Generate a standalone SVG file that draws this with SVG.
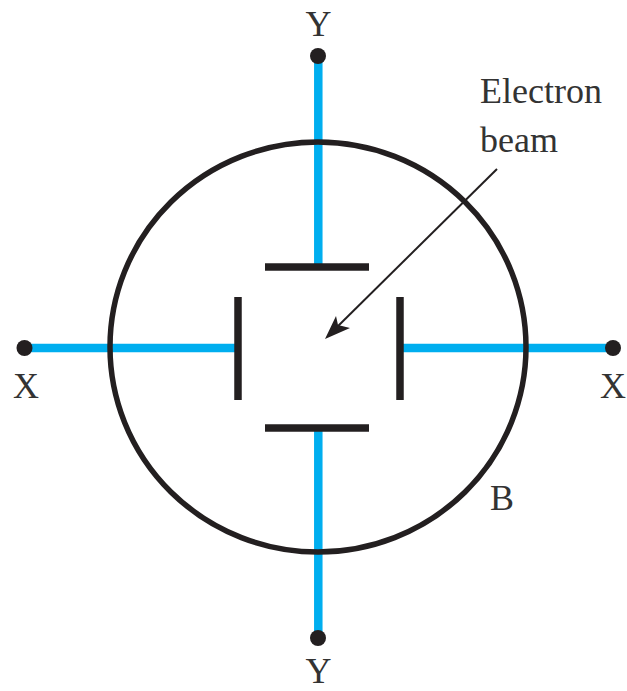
<svg xmlns="http://www.w3.org/2000/svg" width="627" height="691" viewBox="0 0 627 691">
<style>
.t{font-family:"Liberation Serif",serif;font-size:36px;fill:#333333}
.w{stroke:#00aeef;stroke-width:8.5;fill:none}
.p{stroke:#231f20;stroke-width:7.5;fill:none}
.d{fill:#231f20}
</style>
<rect width="627" height="691" fill="#fff"/>
<g id="connectors">
<path class="w" d="M318.3 57V266"/><path class="w" d="M318.3 428V638"/><path class="w" d="M25 348H238"/><path class="w" d="M400 348H613"/>
<path d="M497 169L332 332" stroke="#231f20" stroke-width="2" fill="none"/>
<path d="M325 339L336 316L338 325L350 328Z" fill="#231f20"/>
</g>
<g id="tube"><ellipse cx="318" cy="347" rx="208" ry="205" fill="none" stroke="#231f20" stroke-width="5.5"/></g>
<g id="plate-top"><path class="p" d="M265 267H369"/></g>
<g id="plate-bottom"><path class="p" d="M265 428H369"/></g>
<g id="plate-left"><path class="p" d="M238 297V400"/></g>
<g id="plate-right"><path class="p" d="M400 297V400"/></g>
<g id="terminal-top"><circle class="d" cx="318" cy="56" r="8"/><text class="t" x="318.5" y="36" text-anchor="middle">Y</text></g>
<g id="terminal-bottom"><circle class="d" cx="318" cy="638" r="8"/><text class="t" x="318.5" y="683" text-anchor="middle">Y</text></g>
<g id="terminal-left"><circle class="d" cx="24.5" cy="348" r="8"/><text class="t" x="26" y="398" text-anchor="middle">X</text></g>
<g id="terminal-right"><circle class="d" cx="613" cy="348" r="8"/><text class="t" x="613" y="398" text-anchor="middle">X</text></g>
<g id="label-beam"><text class="t" x="480" y="103">Electron</text><text class="t" x="480" y="152">beam</text></g>
<g id="label-b"><text class="t" x="490" y="510">B</text></g>
</svg>
